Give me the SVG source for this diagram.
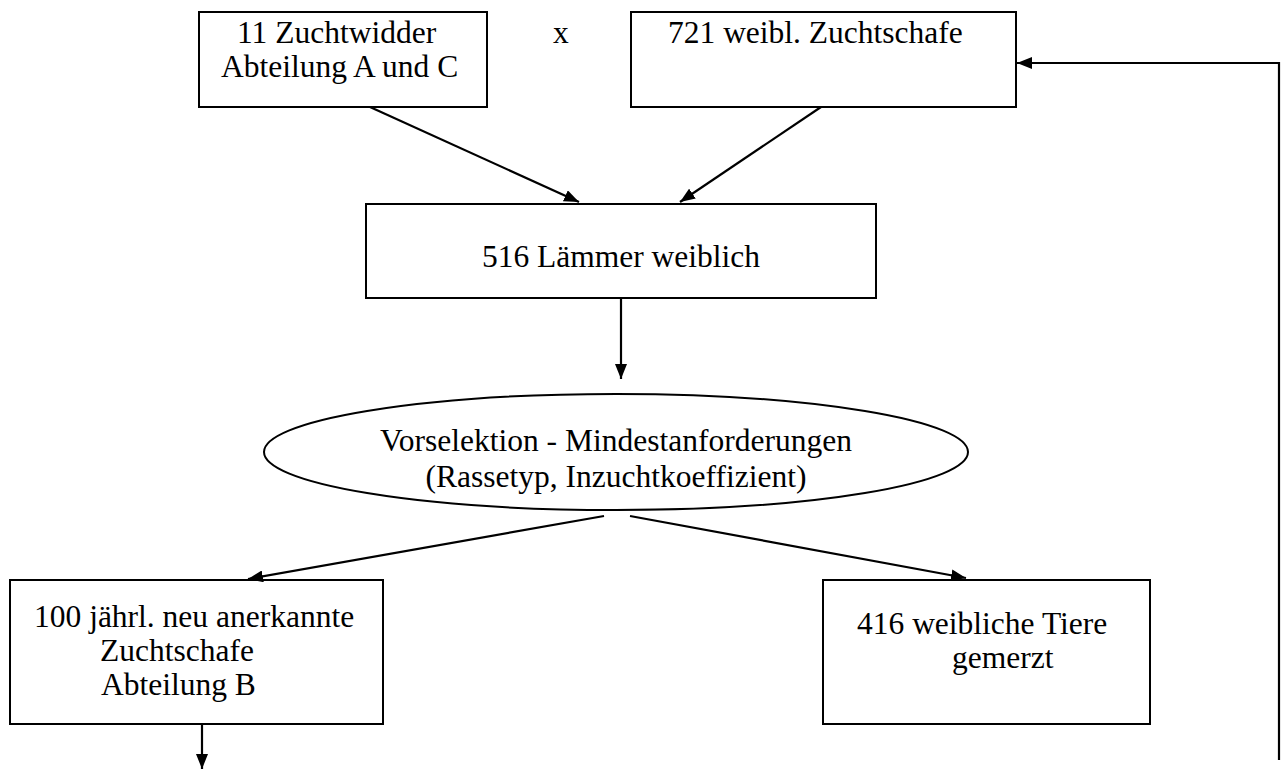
<svg xmlns="http://www.w3.org/2000/svg" width="1282" height="769" viewBox="0 0 1282 769">
<style>
.box{fill:#fff;stroke:#000;stroke-width:2}
.t{font-family:'Liberation Serif','Times New Roman',serif;font-size:31.5px;fill:#000}
.c{stroke:#000;stroke-width:2.2;fill:none}
</style>
<defs>
<marker id="ah" viewBox="0 0 15 12" refX="15" refY="6" markerWidth="15" markerHeight="12" markerUnits="userSpaceOnUse" orient="auto">
<path d="M0,0 L15,6 L0,12 Z" fill="#000"/>
</marker>
</defs>
<rect width="1282" height="769" fill="#fff"/>
<g id="n1"><rect class="box" x="199" y="12" width="288" height="95"/>
<text class="t" x="237" y="43">11 Zuchtwidder</text>
<text class="t" x="221" y="77">Abteilung A und C</text></g>
<g id="x"><text class="t" x="553" y="43">x</text></g>
<g id="n2"><rect class="box" x="631" y="12" width="385" height="95"/>
<text class="t" x="668" y="43">721 weibl. Zuchtschafe</text></g>
<g id="n3"><rect class="box" x="366" y="204" width="510" height="94"/>
<text class="t" x="621" y="267" text-anchor="middle">516 Lämmer weiblich</text></g>
<g id="n4"><ellipse class="box" cx="616" cy="452" rx="352" ry="58"/>
<text class="t" x="616" y="451" text-anchor="middle">Vorselektion - Mindestanforderungen</text>
<text class="t" x="616" y="487" text-anchor="middle">(Rassetyp, Inzuchtkoeffizient)</text></g>
<g id="n5"><rect class="box" x="10" y="580" width="373" height="144"/>
<text class="t" x="34" y="627">100 jährl. neu anerkannte</text>
<text class="t" x="100" y="661">Zuchtschafe</text>
<text class="t" x="101" y="695">Abteilung B</text></g>
<g id="n6"><rect class="box" x="823" y="580" width="327" height="144"/>
<text class="t" x="857" y="634">416 weibliche Tiere</text>
<text class="t" x="952" y="668">gemerzt</text></g>
<g id="connectors">
<line class="c" x1="370" y1="107" x2="579" y2="202" marker-end="url(#ah)"/>
<line class="c" x1="821" y1="107" x2="680" y2="202" marker-end="url(#ah)"/>
<line class="c" x1="621" y1="298" x2="621" y2="379" marker-end="url(#ah)"/>
<line class="c" x1="604" y1="516" x2="248" y2="579" marker-end="url(#ah)"/>
<line class="c" x1="630" y1="516" x2="966" y2="578" marker-end="url(#ah)"/>
<line class="c" x1="202" y1="724" x2="202" y2="769" marker-end="url(#ah)"/>
<polyline class="c" points="1279,760 1279,63 1017,63" marker-end="url(#ah)"/>
</g>
</svg>
